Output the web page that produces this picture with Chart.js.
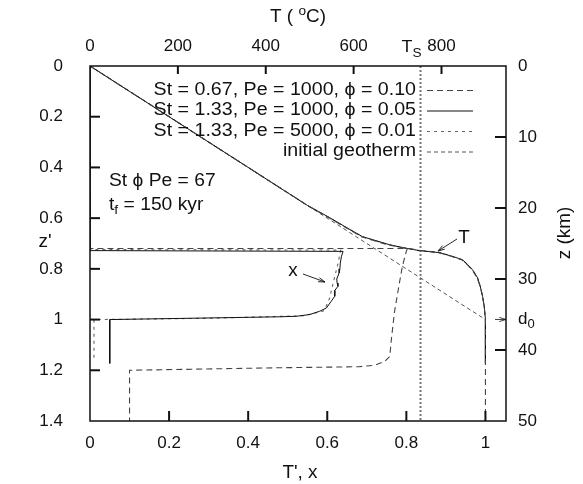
<!DOCTYPE html>
<html>
<head>
<meta charset="utf-8">
<script src="https://cdn.jsdelivr.net/npm/chart.js@4.4.1/dist/chart.umd.min.js"></script>
<style>
  body { margin: 0; background: #fff; }
  canvas { display: block; }
</style>
</head>
<body>
<canvas id="chart" width="583" height="484"></canvas>
<script>
// tick values
const xTicks = [0, 0.2, 0.4, 0.6, 0.8, 1];
const zTicks = [0, 0.2, 0.4, 0.6, 0.8, 1, 1.2, 1.4];
const tempTicks = [0, 200, 400, 600, 800];
const kmTicks = [0, 10, 20, 30, 40, 50];
const xMax = 1.052;
const tempScale = 900;   // T' = 1  <->  900 C
const kmMax = 50;        // z' = 1.4 <-> 50 km
const d0Km = 35.7;
const tSolidus = 750;

// St = 0.67, Pe = 1000, phi = 0.10 (dashed)
const dashTz = [0, 0.55, 0.598, 0.64, 0.673, 0.705, 0.716, 0.726, 0.736, 0.75, 0.764, 0.783, 0.805, 0.835, 0.87, 0.91, 0.95, 1.0, 1.4];
const dashT  = [0, 0.55, 0.604, 0.65, 0.686, 0.752, 0.79, 0.83, 0.882, 0.913, 0.94, 0.954, 0.967, 0.979, 0.987, 0.993, 0.997, 1.0, 1.0];
const dashXz = [0, 0.72, 0.72, 0.73, 0.79, 0.86, 0.97, 1.08, 1.146, 1.165, 1.18, 1.186, 1.19, 1.2, 1.4];
const dashX  = [0, 0, 0.803, 0.80, 0.79, 0.782, 0.77, 0.762, 0.758, 0.745, 0.72, 0.68, 0.48, 0.1, 0.1];

// St = 1.33, Pe = 1000, phi = 0.05 (solid)
const solidTz = [0, 0.55, 0.598, 0.64, 0.673, 0.705, 0.716, 0.728, 0.736, 0.75, 0.764, 0.783, 0.805, 0.835, 0.87, 0.91, 0.95, 1.0, 1.173];
const solidT  = [0, 0.55, 0.606, 0.652, 0.689, 0.758, 0.79, 0.833, 0.884, 0.915, 0.942, 0.955, 0.968, 0.980, 0.987, 0.993, 0.997, 1.0, 1.0];
const solidXz = [0, 0.728, 0.731, 0.75, 0.777, 0.80, 0.816, 0.84, 0.856, 0.869, 0.885, 0.908, 0.928, 0.954, 0.967, 0.98, 0.987, 0.989, 1.0, 1.173];
const solidX  = [0, 0, 0.640, 0.636, 0.633, 0.632, 0.630, 0.624, 0.625, 0.627, 0.619, 0.619, 0.610, 0.598, 0.581, 0.556, 0.522, 0.48, 0.05, 0.05];

// St = 1.33, Pe = 5000, phi = 0.01 (dotted)
const dotTz = [0, 0.55, 0.598, 0.64, 0.673, 0.705, 0.716, 0.728, 0.736, 0.75, 0.764, 0.783, 0.805, 0.835, 0.87, 0.91, 0.95, 1.0, 1.164];
const dotT  = [0, 0.55, 0.605, 0.651, 0.688, 0.755, 0.79, 0.832, 0.883, 0.914, 0.941, 0.955, 0.968, 0.98, 0.987, 0.993, 0.997, 1.0, 1.0];
const dotXz = [0, 0.724, 0.726, 0.78, 0.83, 0.875, 0.915, 0.945, 0.967, 0.985, 0.995, 1.0, 1.164];
const dotX  = [0, 0, 0.634, 0.627, 0.619, 0.612, 0.606, 0.598, 0.589, 0.54, 0.3, 0.01, 0.01];

// initial geotherm
const geoZ = [0, 1];
const geoT = [0, 1];

const FONT = '"Liberation Sans", Arial, Helvetica, sans-serif';

function pts(xs, zs) {
    return xs.map((v, i) => ({ x: v, y: zs[i] }));
}

const styles = [
    { label: 'St = 0.67, Pe = 1000, \u03d5 = 0.10', color: '#444', width: 1.1, dash: [6, 4] },
    { label: 'St = 1.33, Pe = 1000, \u03d5 = 0.05', color: '#111', width: 1, dash: [] },
    { label: 'St = 1.33, Pe = 5000, \u03d5 = 0.01', color: '#666', width: 1.1, dash: [3, 4] },
    { label: 'initial geotherm', color: '#555', width: 1, dash: [4, 3] }
];

function ds(style, data, showInLegend) {
    return {
        label: style.label,
        data: data,
        borderColor: style.color,
        borderWidth: style.width,
        borderDash: style.dash,
        showLine: true,
        fill: false,
        tension: 0,
        pointRadius: 0,
        xAxisID: 'x',
        yAxisID: 'y',
        inLegend: showInLegend
    };
}

const datasets = [
    ds(styles[0], pts(dashT, dashTz), true),
    ds(styles[0], pts(dashX, dashXz), false),
    ds(styles[1], pts(solidT, solidTz), true),
    ds(styles[1], pts(solidX, solidXz), false),
    ds(styles[2], pts(dotT, dotTz), true),
    ds(styles[2], pts(dotX, dotXz), false),
    ds(styles[3], pts(geoT, geoZ), true)
];

// text with sub/superscript parts; sx stretches horizontally
function richText(ctx, parts, x, y, align, sx) {
    sx = sx || 1;
    let w = 0;
    parts.forEach(p => {
        ctx.font = p.size + 'px ' + FONT;
        p.w = ctx.measureText(p.t).width * sx;
        w += p.w;
    });
    let cx = align === 'right' ? x - w : align === 'center' ? x - w / 2 : x;
    ctx.textBaseline = 'middle';
    ctx.textAlign = 'left';
    parts.forEach(p => {
        ctx.font = p.size + 'px ' + FONT;
        ctx.save();
        ctx.translate(cx, y + (p.dy || 0));
        ctx.scale(sx, 1);
        ctx.fillText(p.t, 0, 0);
        ctx.restore();
        cx += p.w;
    });
}

function seg(ctx, x1, y1, x2, y2) {
    ctx.beginPath();
    ctx.moveTo(x1, y1);
    ctx.lineTo(x2, y2);
    ctx.stroke();
}

function arrow(ctx, x1, y1, x2, y2) {
    seg(ctx, x1, y1, x2, y2);
    const a = Math.atan2(y2 - y1, x2 - x1);
    ctx.beginPath();
    ctx.moveTo(x2, y2);
    ctx.lineTo(x2 - 7 * Math.cos(a - 0.3), y2 - 7 * Math.sin(a - 0.3));
    ctx.moveTo(x2, y2);
    ctx.lineTo(x2 - 7 * Math.cos(a + 0.3), y2 - 7 * Math.sin(a + 0.3));
    ctx.stroke();
}

const decorations = {
    id: 'decorations',
    beforeDatasetsDraw(chart) {
        const { ctx, chartArea: a, scales } = chart;
        const xs = Math.round(scales.x2.getPixelForValue(tSolidus)) + 0.5;
        ctx.save();
        ctx.strokeStyle = '#777';
        ctx.lineWidth = 2;
        ctx.setLineDash([2, 2]);
        seg(ctx, xs, a.top, xs, a.bottom);
        ctx.restore();
    },
    afterDraw(chart) {
        const { ctx, chartArea: a, scales } = chart;
        const sx = scales.x, sy = scales.y, st = scales.x2, sk = scales.y2;
        const W = 1.09;
        ctx.save();
        ctx.strokeStyle = '#111';
        ctx.fillStyle = '#111';

        // ticks (inward)
        ctx.lineWidth = 2;
        xTicks.forEach(v => { const p = sx.getPixelForValue(v); if (v > 0) seg(ctx, p, a.bottom, p, a.bottom - 10); });
        zTicks.forEach(v => { const p = sy.getPixelForValue(v); if (v > 0 && v < 1.4) seg(ctx, a.left, p, a.left + 10, p); });
        tempTicks.forEach(v => { const p = st.getPixelForValue(v); if (v > 0) seg(ctx, p, a.top, p, a.top + 8); });
        kmTicks.forEach(v => { const p = sk.getPixelForValue(v); if (v > 0 && v < kmMax) seg(ctx, a.right, p, a.right - 11, p); });
        ctx.lineWidth = 0.8;
        const pd = sk.getPixelForValue(d0Km);
        arrow(ctx, a.right - 11, pd, a.right, pd);

        // frame
        ctx.lineWidth = 1.5;
        ctx.strokeRect(a.left, a.top, a.right - a.left, a.bottom - a.top);

        // extra tick labels
        richText(ctx, [{ t: 'd', size: 17 }, { t: '0', size: 13, dy: 5 }], a.right + 12, pd, 'left');
        const xs = st.getPixelForValue(tSolidus);
        richText(ctx, [{ t: 'T', size: 17 }, { t: 'S', size: 13, dy: 6 }], xs + 2, 47, 'right', 1.05);

        // axis titles
        richText(ctx, [{ t: 'T ( ', size: 18 }, { t: 'o', size: 13, dy: -6 }, { t: 'C)', size: 18 }], 298, 17, 'center', 1.05);
        richText(ctx, [{ t: "T', x", size: 18 }], 300, 473, 'center', 1.05);
        richText(ctx, [{ t: "z'", size: 18 }], 45, 242, 'center', 1.05);
        ctx.save();
        ctx.translate(565, 233);
        ctx.rotate(-Math.PI / 2);
        richText(ctx, [{ t: 'z (km)', size: 18 }], 0, 0, 'center', 1.05);
        ctx.restore();

        // legend
        const entries = chart.data.datasets.filter(d => d.inLegend);
        entries.forEach((d, i) => {
            const y = 90 + i * 20.5;
            richText(ctx, [{ t: d.label, size: 18 }], 416, y, 'right', W);
            ctx.save();
            ctx.strokeStyle = d.borderColor;
            ctx.lineWidth = d.borderWidth;
            ctx.setLineDash(d.borderDash);
            seg(ctx, 427, y + 0.5, 473, y + 0.5);
            ctx.restore();
        });

        // annotations
        richText(ctx, [{ t: 'St \u03d5 Pe = 67', size: 18 }], 109, 181, 'left', 1.07);
        richText(ctx, [{ t: 't', size: 18 }, { t: 'f', size: 13, dy: 5 }, { t: ' = 150 kyr', size: 18 }], 109, 205, 'left', 1.07);
        richText(ctx, [{ t: 'x', size: 18 }], 293, 271, 'center', 1.05);
        richText(ctx, [{ t: 'T', size: 18 }], 464, 238, 'center', 1.05);
        ctx.lineWidth = 0.9;
        arrow(ctx, 303, 274, 325, 282);
        arrow(ctx, 457, 239, 438, 251);
        ctx.restore();
    }
};

const tickFont = { family: FONT, size: 17 };
const tickColor = '#111';

new Chart(document.getElementById('chart'), {
    type: 'scatter',
    data: { datasets: datasets },
    options: {
        responsive: false,
        devicePixelRatio: 1,
        animation: false,
        layout: { padding: 0 },
        plugins: {
            legend: { display: false },
            tooltip: { enabled: false }
        },
        scales: {
            x: {
                type: 'linear', position: 'bottom', min: 0, max: xMax,
                grid: { display: false, drawTicks: false }, border: { display: false },
                afterBuildTicks: s => { s.ticks = xTicks.map(v => ({ value: v })); },
                afterFit: s => { s.height = 63; },
                ticks: { font: tickFont, color: tickColor, padding: 12, maxRotation: 0, callback: v => String(+v.toFixed(1)) }
            },
            x2: {
                type: 'linear', position: 'top', min: 0, max: xMax * tempScale,
                grid: { display: false, drawTicks: false }, border: { display: false },
                afterBuildTicks: s => { s.ticks = tempTicks.map(v => ({ value: v })); },
                afterFit: s => { s.height = 66; },
                ticks: { font: tickFont, color: tickColor, padding: 9, maxRotation: 0, callback: v => String(v) }
            },
            y: {
                type: 'linear', position: 'left', min: 0, max: 1.4, reverse: true,
                grid: { display: false, drawTicks: false }, border: { display: false },
                afterBuildTicks: s => { s.ticks = zTicks.map(v => ({ value: v })); },
                afterFit: s => { s.width = 90; },
                ticks: { font: tickFont, color: tickColor, padding: 27, callback: v => String(+v.toFixed(1)) }
            },
            y2: {
                type: 'linear', position: 'right', min: 0, max: kmMax, reverse: true,
                grid: { display: false, drawTicks: false }, border: { display: false },
                afterBuildTicks: s => { s.ticks = kmTicks.map(v => ({ value: v })); },
                afterFit: s => { s.width = 77; },
                ticks: { font: tickFont, color: tickColor, padding: 12, callback: v => String(v) }
            }
        }
    },
    plugins: [decorations]
});
</script>
</body>
</html>
